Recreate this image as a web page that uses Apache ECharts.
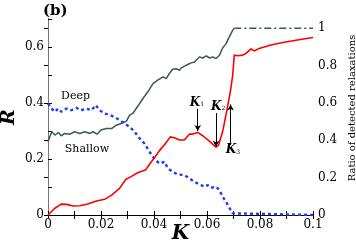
<!DOCTYPE html>
<html><head><meta charset="utf-8">
<script src="https://cdn.jsdelivr.net/npm/echarts@6/dist/echarts.min.js"></script>
<style>html,body{margin:0;padding:0;background:#fff}#c{width:356px;height:245px}</style>
</head><body><div id="c"></div>
<script>
// R (left axis), red curve
const redK = [0,0.0026,0.005,0.007,0.0095,0.012,0.015,0.0183,0.0214,0.024,0.027,0.0293,0.0315,0.034,0.0368,0.039,0.040,0.042,0.0444,0.0461,0.0477,0.0496,0.0515,0.0534,0.0546,0.0565,0.0584,0.0603,0.0618,0.0634,0.0644,0.0659,0.0674,0.0688,0.0697,0.0703,0.0716,0.0734,0.0747,0.0766,0.0778,0.0797,0.0841,0.0891,0.0941,0.1];
const redR = [0,0.024,0.039,0.038,0.032,0.033,0.039,0.05,0.056,0.071,0.095,0.127,0.138,0.152,0.161,0.19,0.202,0.229,0.256,0.279,0.276,0.268,0.268,0.289,0.289,0.295,0.283,0.268,0.256,0.242,0.25,0.298,0.369,0.44,0.5,0.571,0.569,0.571,0.577,0.593,0.586,0.595,0.607,0.617,0.625,0.634];
// Ratio of detected relaxations (right axis)
const shallowK = [0,0.0014,0.0026,0.0039,0.005,0.0063,0.0083,0.01,0.012,0.0139,0.0158,0.017,0.0185,0.02,0.022,0.024,0.0258,0.0276,0.0296,0.0308,0.032,0.034,0.0358,0.0377,0.0396,0.0414,0.0434,0.0446,0.0458,0.047,0.0484,0.0496,0.0503,0.0521,0.054,0.0553,0.0571,0.0584,0.0597,0.061,0.0622,0.0634,0.0647,0.0659,0.0672,0.0684,0.0697,0.0703];
const shallowRatio = [0.392,0.446,0.428,0.442,0.424,0.437,0.433,0.446,0.437,0.446,0.437,0.446,0.433,0.455,0.463,0.463,0.481,0.49,0.503,0.535,0.544,0.585,0.624,0.66,0.704,0.722,0.74,0.731,0.758,0.781,0.784,0.775,0.788,0.802,0.815,0.82,0.847,0.841,0.852,0.841,0.847,0.838,0.856,0.895,0.918,0.954,0.989,1.0];
const plateauK = [0.0703,0.1];
const plateauRatio = [1.0,1.0];
const deepK = [0,0.0014,0.0026,0.0039,0.005,0.007,0.0088,0.0107,0.0125,0.0145,0.0164,0.018,0.0195,0.0214,0.0233,0.025,0.027,0.029,0.0308,0.0327,0.0346,0.0364,0.0383,0.040,0.042,0.044,0.0452,0.047,0.0489,0.0515,0.0534,0.0553,0.0571,0.059,0.0603,0.0615,0.0634,0.0647,0.0659,0.0672,0.0684,0.0697,0.0703,0.1];
const deepRatio = [0.597,0.57,0.553,0.57,0.553,0.57,0.561,0.574,0.561,0.57,0.561,0.588,0.561,0.544,0.535,0.526,0.508,0.49,0.472,0.446,0.41,0.383,0.339,0.303,0.276,0.285,0.25,0.232,0.217,0.214,0.196,0.178,0.164,0.152,0.16,0.146,0.152,0.134,0.098,0.071,0.039,0.009,0,0];
// K markers: label, arrow K position, arrow start R, arrow end R, label K, label R
const markerNames = ['1','2','3'];
const markerK = [0.0565,0.0634,0.0689];
const markerFrom = [0.379,0.364,0.25];
const markerTo = [0.30,0.244,0.395];
const markerLabelK = [0.0562,0.0642,0.0698];
const markerLabelR = [0.401,0.386,0.232];

const FONT = 'DejaVu Serif';
const zip = (a,b)=>a.map((v,i)=>[v,b[i]]);
const chart = echarts.init(document.getElementById('c'));

const markLines = markerK.map((k,i)=>[{coord:[k,markerFrom[i]]},{coord:[k,markerTo[i]]}]);
const markPts = markerNames.map((n,i)=>({coord:[markerLabelK[i],markerLabelR[i]],value:n}));

chart.setOption({
  animation:false,
  grid:{left:48,right:43,top:19,bottom:30,outerBoundsMode:'none',containLabel:false},
  xAxis:[{
    type:'value',min:0,max:0.1,interval:0.01,
    name:'K',nameLocation:'middle',nameGap:9,nameMoveOverlap:false,
    nameTextStyle:{fontFamily:FONT,fontSize:20,fontWeight:'bold',fontStyle:'italic',color:'#000'},
    axisLine:{lineStyle:{color:'#000',width:1}},
    axisTick:{inside:true,length:4,lineStyle:{color:'#000'}},
    axisLabel:{fontFamily:FONT,fontSize:12,color:'#000',margin:4,
      formatter:v=>{const n=Math.round(v*100);return n%2?'':(n===0?'0':String(+(n/100).toFixed(2)));}},
    splitLine:{show:false}
  },{
    type:'value',min:0,max:0.1,interval:0.01,position:'top',
    axisLine:{lineStyle:{color:'#000',width:1}},
    axisTick:{inside:true,length:4,lineStyle:{color:'#000'}},
    axisLabel:{show:false},splitLine:{show:false}
  }],
  yAxis:[{
    type:'value',min:0,max:0.7,interval:0.1,
    name:'R',nameLocation:'middle',nameGap:29,nameRotate:90,nameMoveOverlap:false,
    nameTextStyle:{fontFamily:FONT,fontSize:19,fontWeight:'bold',fontStyle:'italic',color:'#000'},
    axisLine:{show:true,lineStyle:{color:'#000',width:1}},
    axisTick:{inside:true,length:4,lineStyle:{color:'#000'}},
    axisLabel:{fontFamily:FONT,fontSize:12,color:'#000',margin:4,
      formatter:v=>{const n=Math.round(v*10);return n%2?'':(n===0?'0':String(n/10));}},
    splitLine:{show:false}
  },{
    type:'value',min:0,max:1.05,interval:0.2,position:'right',
    name:'Ratio of detected relaxations',nameLocation:'middle',nameGap:34,nameRotate:90,nameMoveOverlap:false,
    nameTextStyle:{fontFamily:FONT,fontSize:10,color:'#000',padding:[0,0,0,18]},
    axisLine:{show:true,lineStyle:{color:'#777',width:1}},
    axisTick:{inside:true,length:4,lineStyle:{color:'#000'}},
    axisLabel:{fontFamily:FONT,fontSize:12,color:'#000',margin:5,showMaxLabel:false,
      formatter:v=>{const n=Math.round(v*10);return n===0?'0':(n===10?'1':String(n/10));}},
    splitLine:{show:false}
  }],
  series:[
    {type:'line',name:'Deep',yAxisIndex:1,data:zip(deepK,deepRatio),showSymbol:false,
      lineStyle:{color:'#1f3cf0',width:2.4,type:[3,3]},z:3,
      markPoint:{symbol:'circle',symbolSize:0,silent:true,
        label:{show:true,position:'inside',formatter:'{b}',fontFamily:FONT,fontSize:11,color:'#000'},
        data:[{name:'Deep',coord:[0.0104,0.636]},{name:'Shallow',coord:[0.0147,0.353]}]}},
    {type:'line',name:'Shallow',yAxisIndex:1,data:zip(shallowK,shallowRatio),showSymbol:false,
      lineStyle:{color:'#3a5a58',width:1.5},z:2},
    {type:'line',name:'ShallowPlateau',yAxisIndex:1,data:zip(plateauK,plateauRatio),showSymbol:false,
      lineStyle:{color:'#3a5a58',width:1.5,type:[7,3,2,3]},z:2},
    {type:'line',name:'R',yAxisIndex:0,data:zip(redK,redR),showSymbol:false,
      lineStyle:{color:'#ff0000',width:1.6},z:4,
      markLine:{silent:true,symbol:['none','arrow'],symbolSize:[5,6],
        lineStyle:{color:'#000',width:1,type:'solid'},label:{show:false},data:markLines},
      markPoint:{symbol:'circle',symbolSize:0,silent:true,
        label:{show:true,position:'inside',formatter:p=>'{k|K}{s|'+p.value+'}',
          rich:{k:{fontFamily:FONT,fontSize:12,fontWeight:'bold',fontStyle:'italic',color:'#000'},
                s:{fontFamily:FONT,fontSize:6,color:'#000',padding:[4,0,0,0]}}},
        data:markPts}}
  ],
  graphic:[{type:'text',left:43,top:4,style:{text:'(b)',fontFamily:FONT,fontSize:15,fontWeight:'bold',fill:'#000'}}]
});
</script></body></html>
